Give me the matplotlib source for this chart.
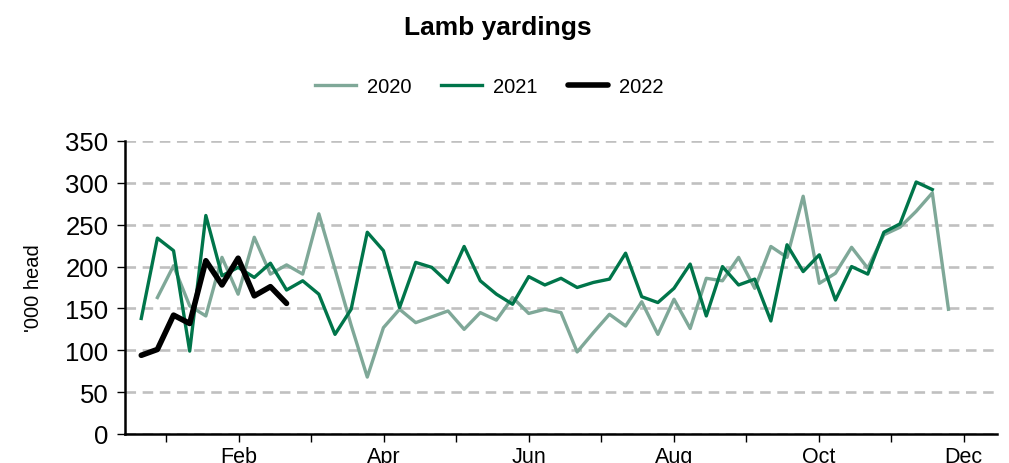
import numpy as np
import matplotlib
matplotlib.use("Agg")
import matplotlib.pyplot as plt

plt.rcParams["font.family"] = ["Liberation Sans", "DejaVu Sans"]

# ── data: weekly lamb yardings ('000 head), x = week index ──
weeks_2020 = list(range(1, 51))
y2020 = [163, 201, 153, 141, 211, 167, 235, 191, 202, 191,
         263, 197, 130, 68, 127, 149, 133, 140, 147, 125,
         145, 136, 163, 144, 149, 145, 98, 121, 143, 129,
         158, 119, 161, 126, 186, 183, 211, 174, 224, 211,
         284, 180, 192, 223, 198, 238, 247, 266, 288, 149]

weeks_2021 = list(range(0, 50))
y2021 = [138, 234, 219, 99, 261, 189, 199, 187, 204, 172,
         183, 167, 119, 149, 241, 219, 151, 205, 199, 181,
         224, 183, 167, 155, 188, 178, 186, 175, 181, 185,
         216, 164, 157, 174, 203, 141, 200, 178, 185, 135,
         226, 194, 214, 160, 200, 191, 241, 251, 301, 292]

weeks_2022 = list(range(0, 10))
y2022 = [94, 101, 142, 132, 207, 178, 210, 165, 176, 156]

months = ["Jan", "Feb", "Mar", "Apr", "May", "Jun",
          "Jul", "Aug", "Sep", "Oct", "Nov", "Dec"]
month_pos = [1.55 + 4.49 * k for k in range(12)]
month_labels = [m if k % 2 == 1 else "" for k, m in enumerate(months)]

C2020 = "#7fa898"
C2021 = "#00754a"
C2022 = "#000000"

fig = plt.figure(figsize=(10.09, 4.64), dpi=100)
ax = fig.add_axes([0.124, 0.0625, 0.864, 0.6315])

ax.plot(weeks_2020, y2020, color=C2020, lw=2.4, label="2020")
ax.plot(weeks_2021, y2021, color=C2021, lw=2.4, label="2021")
ax.plot(weeks_2022, y2022, color=C2022, lw=4.0, label="2022",
        solid_capstyle="round", solid_joinstyle="round")

ax.set_xlim(-1, 53)
ax.set_ylim(0, 350)
ax.set_yticks(range(0, 351, 50))
ax.yaxis.grid(True, color="#c0c0c0", linestyle=(0, (4, 2.5)), lw=1.9)
ax.set_axisbelow(True)

ax.set_xticks(month_pos)
ax.set_xticklabels(month_labels)

for s in ["top", "right"]:
    ax.spines[s].set_visible(False)
for s in ["left", "bottom"]:
    ax.spines[s].set_linewidth(1.8)
ax.tick_params(axis="y", labelsize=18.5, length=6, width=1, pad=6)
ax.tick_params(axis="x", labelsize=15.5, length=6, width=1, pad=3)
ax.set_ylabel("'000 head", fontsize=14.5, labelpad=16)

fig.suptitle("Lamb yardings", fontsize=19, fontweight="bold", x=0.493, y=0.965)
fig.legend(loc="center", bbox_to_anchor=(0.485, 0.812), ncol=3, frameon=False,
           fontsize=14.5, handlelength=2.0, handletextpad=0.55, columnspacing=1.5)

plt.savefig("out.png", dpi=100)
